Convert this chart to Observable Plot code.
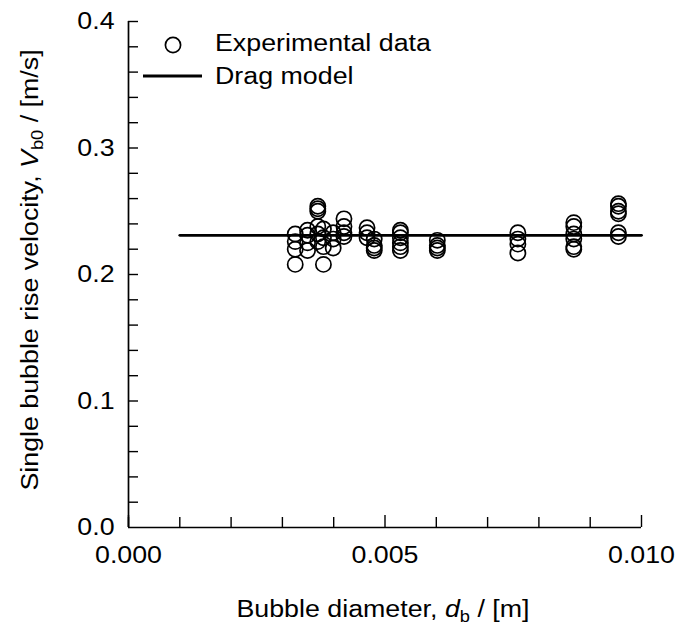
<!DOCTYPE html>
<html><head><meta charset="utf-8">
<script src="https://cdn.jsdelivr.net/npm/d3@7"></script>
<script src="https://cdn.jsdelivr.net/npm/@observablehq/plot@0.6"></script>
<style>
body{margin:0;background:#fff}
svg{font-family:"Liberation Sans",Arial,Helvetica,sans-serif}
</style>
</head><body><div id="chart"></div>
<script>
// Experimental data: bubble diameter [m] and measured rise velocities [m/s]
const diameters = [0.00325, 0.00349, 0.00369, 0.00380, 0.00399, 0.00420, 0.00465, 0.00479, 0.00530, 0.00602, 0.00759, 0.00868, 0.00955];
const velocities = [
  [0.232, 0.226, 0.220, 0.208],
  [0.235, 0.231, 0.225, 0.219],
  [0.254, 0.252, 0.250, 0.238, 0.232, 0.226],
  [0.236, 0.229, 0.222, 0.208],
  [0.233, 0.228, 0.221],
  [0.244, 0.238, 0.233, 0.230],
  [0.237, 0.233, 0.229],
  [0.228, 0.223, 0.221, 0.219],
  [0.235, 0.233, 0.229, 0.225, 0.222, 0.219],
  [0.227, 0.223, 0.221, 0.219],
  [0.233, 0.228, 0.224, 0.217],
  [0.241, 0.238, 0.232, 0.228, 0.222, 0.220],
  [0.256, 0.254, 0.250, 0.248, 0.233, 0.230]
];
// Drag model (constant terminal velocity)
const dragDiameters = [0.001, 0.010];
const dragVelocities = [0.231, 0.231];
// Ticks
const xTickLabels = [0.000, 0.005, 0.010];
const xMinorTicks = [0.000, 0.001, 0.002, 0.003, 0.004, 0.006, 0.007, 0.008, 0.009];
const yTickLabels = [0.0, 0.1, 0.2, 0.3, 0.4];
const yMinorTicks = [0.02, 0.04, 0.06, 0.08, 0.10, 0.12, 0.14, 0.16, 0.18, 0.20, 0.22, 0.24, 0.26, 0.28, 0.30, 0.32, 0.34, 0.36, 0.38, 0.40];
const legendLabels = ["Experimental data", "Drag model"];

const points = diameters.flatMap((d, i) => velocities[i].map(v => ({d, v})));
const drag = dragDiameters.map((d, i) => ({d, v: dragVelocities[i]}));

const W = 678, H = 629, mL = 128, mR = 37, mT = 21, mB = 102;
const fw = W - mL - mR, fh = H - mT - mB;
const FS = 23.5;
const STRETCH = 1.14;
const ff = '"Liberation Sans",Arial,Helvetica,sans-serif';

const chart = Plot.plot({
  width: W, height: H,
  marginLeft: mL, marginRight: mR, marginTop: mT, marginBottom: mB,
  x: {domain: [0, 0.010]},
  y: {domain: [0, 0.4]},
  style: {fontFamily: ff, fontSize: FS + "px", color: "#000", background: "#fff", overflow: "visible"},
  marks: [
    Plot.axisX(xTickLabels, {tickSize: 0, tickPadding: 19, tickFormat: d => d.toFixed(3), label: null, fontSize: FS}),
    Plot.axisY(yTickLabels, {tickSize: 0, tickPadding: 14, tickFormat: d => d.toFixed(1), label: null, fontSize: FS}),
    Plot.tickX(xMinorTicks, {x: d => d, insetTop: fh - 10, stroke: "#000", strokeWidth: 1.4}),
    Plot.tickX(xTickLabels, {x: d => d, insetTop: fh - 12, stroke: "#000", strokeWidth: 1.4}),
    Plot.tickY(yMinorTicks, {y: d => d, insetRight: fw - 10, stroke: "#000", strokeWidth: 1.4}),
    Plot.ruleX([0], {stroke: "#000", strokeWidth: 1.7}),
    Plot.ruleY([0], {stroke: "#000", strokeWidth: 1.7}),
    Plot.line(drag, {x: "d", y: "v", stroke: "#000", strokeWidth: 2.8}),
    Plot.dot(points, {x: "d", y: "v", r: 7.6, fill: "none", stroke: "#000", strokeWidth: 1.7})
  ]
});
document.getElementById("chart").appendChild(chart);

const svg = d3.select(chart);

// Legend
const lg = svg.append("g").attr("font-family", ff).attr("font-size", FS).attr("fill", "#000").attr("text-anchor", "start");
lg.append("circle").attr("cx", 173).attr("cy", 45).attr("r", 7.6).attr("fill", "none").attr("stroke", "#000").attr("stroke-width", 1.7);
lg.append("text").attr("x", 215).attr("y", 51).text(legendLabels[0]);
lg.append("line").attr("x1", 143).attr("x2", 202).attr("y1", 76).attr("y2", 76).attr("stroke", "#000").attr("stroke-width", 2.8);
lg.append("text").attr("x", 215).attr("y", 84).text(legendLabels[1]);

// Y axis title
const yt = svg.append("text").attr("font-family", ff).attr("font-size", FS).attr("fill", "#000")
  .attr("text-anchor", "middle").attr("transform", "translate(38,270) rotate(-90)");
yt.append("tspan").text("Single bubble rise velocity, ");
yt.append("tspan").attr("font-style", "italic").text("V");
yt.append("tspan").attr("font-size", 16).attr("dy", 5).text("b0");
yt.append("tspan").attr("dy", -5).text(" / [m/s]");

// X axis title
const xt = svg.append("text").attr("font-family", ff).attr("font-size", FS).attr("fill", "#000")
  .attr("text-anchor", "middle").attr("x", 383).attr("y", 617);
xt.append("tspan").text("Bubble diameter, ");
xt.append("tspan").attr("font-style", "italic").text("d");
xt.append("tspan").attr("font-size", 16).attr("dy", 5).text("b");
xt.append("tspan").attr("dy", -5).text(" / [m]");

// Widen the lettering slightly, like the reference's Helvetica
svg.selectAll("text").each(function() {
  const len = this.getComputedTextLength();
  if (len > 0) {
    this.setAttribute("textLength", (len * STRETCH).toFixed(1));
    this.setAttribute("lengthAdjust", "spacingAndGlyphs");
  }
});
</script>
</body></html>
